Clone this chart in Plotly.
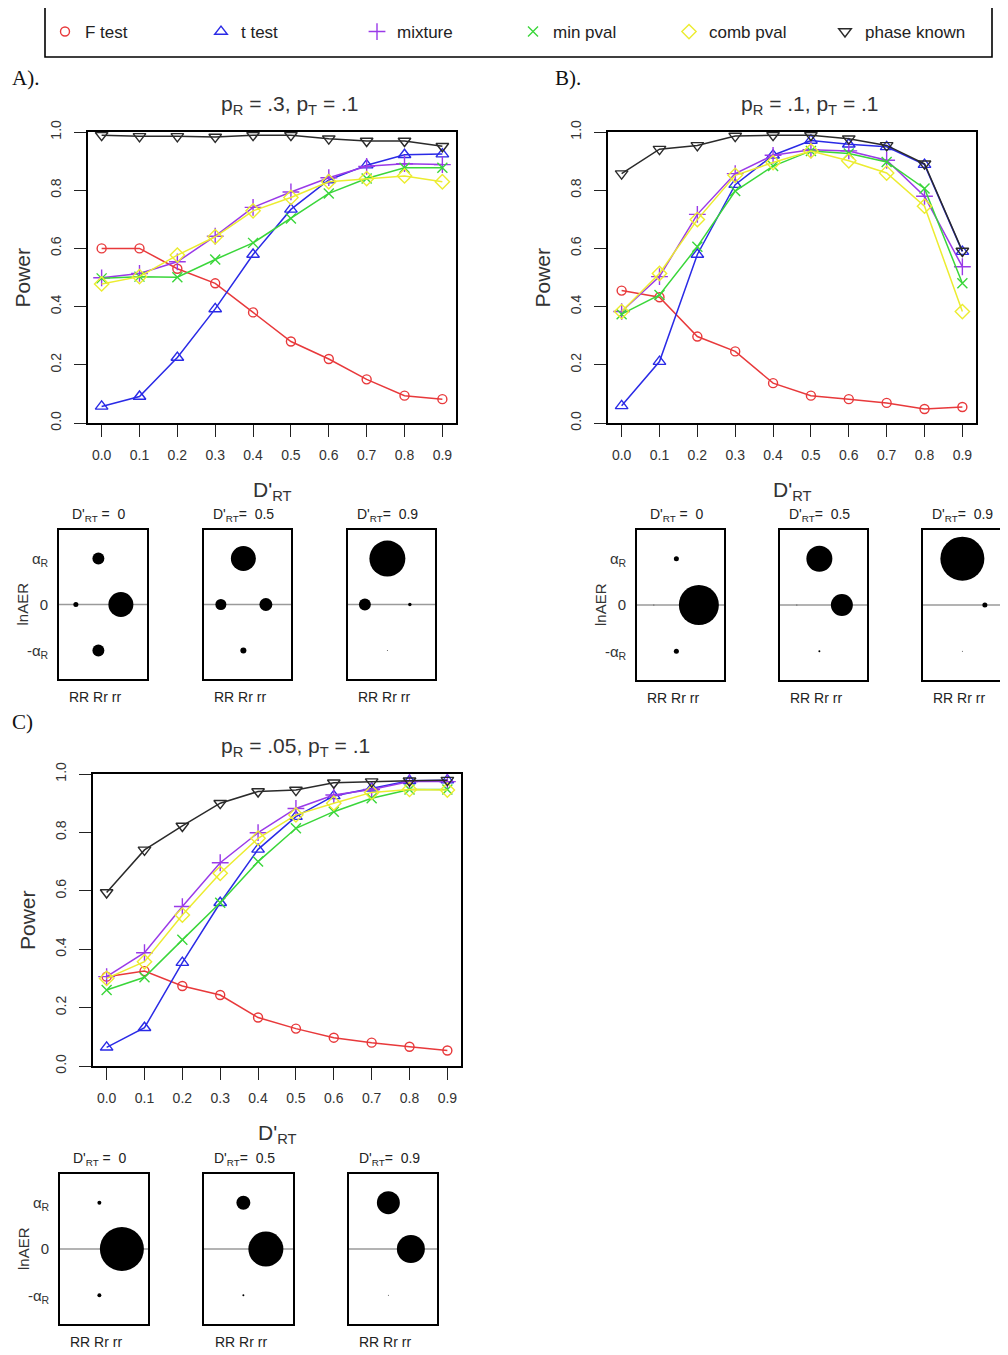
import plotly.graph_objects as go
import math

# page has an 8px body margin: draw in a 1000x1347 figure offset by 8px
OFF = 8
W, H = 1000, 1347

# ---------------- data ----------------
dprime = [0.0, 0.1, 0.2, 0.3, 0.4, 0.5, 0.6, 0.7, 0.8, 0.9]
dprime_labels = ["0.0", "0.1", "0.2", "0.3", "0.4", "0.5", "0.6", "0.7", "0.8", "0.9"]
power_ticks = [0.0, 0.2, 0.4, 0.6, 0.8, 1.0]
power_labels = ["0.0", "0.2", "0.4", "0.6", "0.8", "1.0"]
series_names = ["F test", "t test", "mixture", "min pval", "comb pval", "phase known"]

# Panel A: pR = .3, pT = .1
A_F = [0.60, 0.60, 0.53, 0.48, 0.38, 0.28, 0.22, 0.15, 0.094, 0.082]
A_t = [0.057, 0.091, 0.225, 0.392, 0.579, 0.734, 0.835, 0.886, 0.922, 0.924]
A_mix = [0.499, 0.514, 0.554, 0.642, 0.741, 0.794, 0.843, 0.882, 0.891, 0.888]
A_min = [0.497, 0.503, 0.501, 0.562, 0.619, 0.703, 0.789, 0.840, 0.877, 0.877]
A_comb = [0.478, 0.503, 0.577, 0.640, 0.729, 0.775, 0.829, 0.840, 0.849, 0.829]
A_phase = [0.989, 0.985, 0.985, 0.983, 0.989, 0.989, 0.977, 0.969, 0.969, 0.951]

# Panel B: pR = .1, pT = .1
B_F = [0.455, 0.432, 0.297, 0.246, 0.137, 0.094, 0.082, 0.069, 0.048, 0.055]
B_t = [0.059, 0.211, 0.579, 0.819, 0.920, 0.971, 0.958, 0.949, 0.888, 0.589]
B_mix = [0.383, 0.503, 0.717, 0.857, 0.920, 0.939, 0.935, 0.903, 0.779, 0.537]
B_min = [0.374, 0.440, 0.606, 0.797, 0.883, 0.935, 0.926, 0.897, 0.806, 0.480]
B_comb = [0.383, 0.514, 0.699, 0.851, 0.895, 0.935, 0.901, 0.859, 0.745, 0.383]
B_phase = [0.857, 0.941, 0.954, 0.986, 0.989, 0.989, 0.977, 0.954, 0.891, 0.591]

# Panel C: pR = .05, pT = .1
C_F = [0.306, 0.325, 0.274, 0.243, 0.166, 0.128, 0.097, 0.080, 0.066, 0.053]
C_t = [0.064, 0.131, 0.354, 0.559, 0.742, 0.854, 0.925, 0.951, 0.977, 0.979]
C_mix = [0.306, 0.388, 0.546, 0.696, 0.799, 0.882, 0.928, 0.947, 0.974, 0.974]
C_min = [0.260, 0.304, 0.432, 0.559, 0.700, 0.814, 0.871, 0.917, 0.947, 0.947]
C_comb = [0.300, 0.357, 0.517, 0.660, 0.780, 0.860, 0.900, 0.937, 0.947, 0.945]
C_phase = [0.594, 0.740, 0.822, 0.900, 0.940, 0.945, 0.970, 0.974, 0.977, 0.979]

panel_titles = ["p<sub>R</sub> = .3, p<sub>T</sub> = .1",
                "p<sub>R</sub> = .1, p<sub>T</sub> = .1",
                "p<sub>R</sub> = .05, p<sub>T</sub> = .1"]

# bubble inserts: relative weights at D'RT = 0, 0.5, 0.9
bubble_D = ["0", "0.5", "0.9"]
genotypes = ["RR", "Rr", "rr"]
lnAER_levels = [1, 0, -1]
lnAER_labels = ["α<sub>R</sub>", "0", "-α<sub>R</sub>"]

A_RR_0 = [0.013, 0.0625, 0.074]
A_Rr_pos = [0.074, 0.323, 0.669]
A_Rr_neg = [0.074, 0.019, 0.0005]
A_rr_0 = [0.323, 0.087, 0.006]

B_RR_0 = [0.0005, 0.0005, 0.0]
B_Rr_pos = [0.013, 0.349, 1.0]
B_Rr_neg = [0.013, 0.002, 0.0005]
B_rr_0 = [0.826, 0.25, 0.013]

C_RR_0 = [0.0, 0.0, 0.0]
C_Rr_pos = [0.008, 0.101, 0.273]
C_Rr_neg = [0.008, 0.002, 0.0005]
C_rr_0 = [1.0, 0.633, 0.405]

# ---------------- styles ----------------
FONT = "Arial, Liberation Sans, sans-serif"
SERIF = "Times New Roman, Liberation Serif, serif"
colors = ["#e8393b", "#2a2ae6", "#9a3ae8", "#3ad63a", "#ecec30", "#2a2a2a"]
symbols = ["circle-open", "triangle-up-open", "cross-thin-open", "x-thin-open",
           "diamond-open", "triangle-down-open"]
msizes = [9, 11, 12, 10, 11, 11]


def fx(x):
    return (x - OFF) / W


def fy(y):
    return 1 - (y - OFF) / H


def ann(x, y, text, size, color="#333", family=FONT, angle=0, xanchor="center"):
    return dict(x=fx(x), y=fy(y), xref="paper", yref="paper", text=text,
                showarrow=False, xanchor=xanchor, yanchor="middle", textangle=angle,
                font=dict(size=size, color=color, family=family))


fig = go.Figure()

main_data = [
    [A_F, A_t, A_mix, A_min, A_comb, A_phase],
    [B_F, B_t, B_mix, B_min, B_comb, B_phase],
    [C_F, C_t, C_mix, C_min, C_comb, C_phase],
]
# frame boxes (pixels): x0, x1, y0(top), y1(bottom)
main_frames = [(88, 456, 132, 423), (608, 976, 132, 423), (93, 461, 774, 1066)]

annotations = []
shapes = []

for i, (data, fr) in enumerate(zip(main_data, main_frames)):
    ax = "" if i == 0 else str(i + 1)
    x0, x1, y0, y1 = fr
    for j, vals in enumerate(data):
        fig.add_trace(go.Scatter(
            x=dprime, y=vals, mode="lines+markers",
            xaxis="x" + ax, yaxis="y" + ax, showlegend=False,
            line=dict(color=colors[j], width=1.5),
            marker=dict(symbol=symbols[j], size=msizes[j], color=colors[j],
                        line=dict(width=1.4, color=colors[j])),
            name=series_names[j], cliponaxis=False))
    common = dict(showline=True, mirror=True, linecolor="black", linewidth=1.6,
                  showgrid=False, zeroline=False, ticks="outside", ticklen=12,
                  tickwidth=1.4, tickcolor="#222", tickfont=dict(size=14, color="#333", family=FONT))
    fig.update_layout(**{
        "xaxis" + ax: dict(domain=[fx(x0), fx(x1)], range=[-0.036, 0.936],
                           tickvals=dprime, ticktext=dprime_labels,
                           anchor="y" + ax, ticklabelstandoff=6, **common),
        "yaxis" + ax: dict(domain=[fy(y1), fy(y0)], range=[0, 1],
                           tickvals=power_ticks, ticktext=power_labels, tickangle=-90,
                           anchor="x" + ax, ticklabelstandoff=8, **common),
    })
    cx = (x0 + x1) / 2
    annotations.append(ann(cx + 18, y0 - 27, panel_titles[i], 21))
    annotations.append(ann(cx, y1 + 68, "D'<sub>RT</sub>", 21))
    annotations.append(ann(x0 - 66, (y0 + y1) / 2, "Power", 21, angle=-90))

# panel letters
for txt, (lx, ly) in zip(["A).", "B).", "C)"], [(10, 78), (553, 78), (10, 722)]):
    annotations.append(ann(lx, ly, txt, 21, color="#111", family=SERIF, xanchor="left"))

# ---------------- bubble inserts ----------------
bubble_sets = [
    (A_RR_0, A_Rr_pos, A_Rr_neg, A_rr_0),
    (B_RR_0, B_Rr_pos, B_Rr_neg, B_rr_0),
    (C_RR_0, C_Rr_pos, C_Rr_neg, C_rr_0),
]
row_frames = [
    ([(59, 147), (204, 291), (348, 435)], (530, 679)),
    ([(637, 724), (780, 867), (923, 1010)], (530, 680)),
    ([(60, 148), (204, 293), (349, 437)], (1174, 1324)),
]
MAXD = 44.0
PXU = 22.5
axn = 4
for r, (bset, (xfr, (ty, by))) in enumerate(zip(bubble_sets, row_frames)):
    RR0, RrP, RrN, rr0 = bset
    for k in range(3):
        x0, x1 = xfr[k]
        x1c = min(x1, W + OFF)
        ax = str(axn)
        axn += 1
        gx = [genotypes[0], genotypes[1], genotypes[1], genotypes[2]]
        gy = [lnAER_levels[1], lnAER_levels[0], lnAER_levels[2], lnAER_levels[1]]
        ws = [RR0[k], RrP[k], RrN[k], rr0[k]]
        sizes = [MAXD * math.sqrt(w) for w in ws]
        xi = [genotypes.index(g) for g in gx]
        shapes.append(dict(type="line", xref="x" + ax + " domain", yref="y" + ax,
                           x0=0, x1=1, y0=0, y1=0, line=dict(color="#9a9a9a", width=1.5),
                           layer="below"))
        fig.add_trace(go.Scatter(
            x=xi, y=gy, mode="markers", xaxis="x" + ax, yaxis="y" + ax,
            showlegend=False, hoverinfo="skip",
            marker=dict(size=sizes, sizemode="diameter", color="black",
                        line=dict(width=0), opacity=1)))
        left = -0.75
        right = left + (x1c - x0) / PXU
        first = (k == 0)
        fig.update_layout(**{
            "xaxis" + ax: dict(domain=[fx(x0), fx(x1c)], range=[left, right],
                               showline=True, mirror=True, linecolor="black", linewidth=1.6,
                               showgrid=False, zeroline=False, showticklabels=False,
                               ticks="", anchor="y" + ax),
            "yaxis" + ax: dict(domain=[fy(by), fy(ty)], range=[-1.62, 1.62],
                               showline=True, mirror=True, linecolor="black", linewidth=1.6,
                               showgrid=False, zeroline=False, ticks="",
                               tickvals=lnAER_levels if first else [],
                               ticktext=lnAER_labels if first else [],
                               showticklabels=first, ticklabelstandoff=6,
                               tickfont=dict(size=15, color="#333", family=FONT),
                               anchor="x" + ax),
        })
        cx = (x0 + x1) / 2
        eq = "\u00a0=\u00a0\u00a0" if k == 0 else "=\u00a0\u00a0"
        annotations.append(ann(cx - 4, ty - 15, "D'<sub>RT</sub>" + eq + bubble_D[k],
                               14, color="#222"))
        annotations.append(ann(cx - 8, by + 18, "RR Rr rr", 14, color="#222"))
        if first:
            annotations.append(ann(x0 - 37, (ty + by) / 2, "lnAER", 15, angle=-90))

# ---------------- legend ----------------
for j, nm in enumerate(series_names):
    fig.add_trace(go.Scatter(
        x=[None], y=[None], mode="markers", name=nm, showlegend=True,
        marker=dict(symbol=symbols[j], size=msizes[j], color=colors[j],
                    line=dict(width=1.4, color=colors[j]))))

shapes.append(dict(type="rect", xref="paper", yref="paper",
                   x0=fx(45), x1=fx(992), y0=fy(57), y1=fy(5),
                   line=dict(color="black", width=1.6)))

fig.update_layout(
    width=W, height=H, margin=dict(l=0, r=0, t=0, b=0, autoexpand=False),
    paper_bgcolor="white", plot_bgcolor="white",
    font=dict(family=FONT, color="#333"),
    showlegend=True,
    legend=dict(orientation="h", x=fx(45), y=fy(14), xanchor="left", yanchor="top",
                entrywidth=111, entrywidthmode="pixels", bgcolor="rgba(0,0,0,0)",
                borderwidth=0, font=dict(size=17, color="#222", family=FONT),
                itemclick=False, itemdoubleclick=False),
    annotations=annotations, shapes=shapes,
)

fig.write_html("out.html")
